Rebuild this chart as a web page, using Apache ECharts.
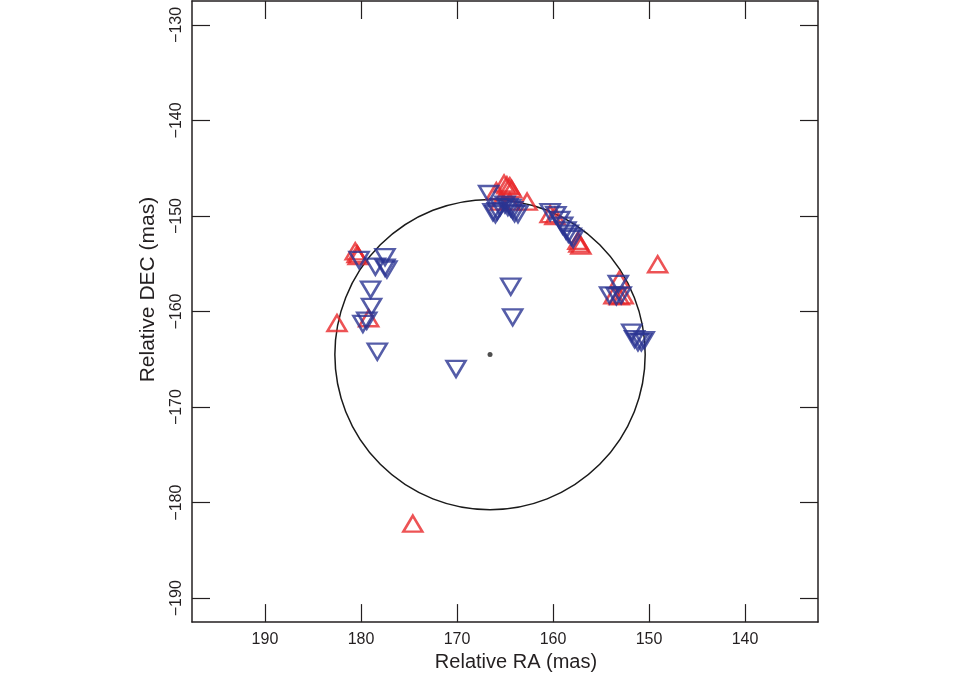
<!DOCTYPE html>
<html>
<head>
<meta charset="utf-8">
<script src="https://cdn.jsdelivr.net/npm/echarts@6/dist/echarts.min.js"></script>
<style>
html,body{margin:0;padding:0;background:#ffffff;overflow:hidden;}
#chart{width:960px;height:677px;}
</style>
</head>
<body>
<div id="chart"></div>
<script>
// Red up-triangles [RA, DEC]
const redPoints = [
  [174.6,-182.2],[149.1,-155.05],[182.5,-161.2],[179.2,-160.7],
  [180.6,-153.7],[180.4,-154.0],[180.3,-154.2],
  [165.1,-146.6],[164.8,-146.8],[164.5,-146.9],[164.3,-147.2],[165.9,-147.4],
  [162.7,-148.5],[165.5,-148.5],[164.5,-148.5],
  [160.3,-149.8],[159.8,-150.0],
  [157.4,-152.6],[157.3,-152.9],[157.1,-153.1],
  [153.1,-156.7],[153.65,-158.3],[153.1,-158.4],[152.7,-158.3]
];
// Blue down-triangles [RA, DEC]
const bluePoints = [
  [166.7,-147.7],
  [166.25,-149.6],[166.0,-149.8],[165.8,-149.5],[164.7,-149.05],[164.4,-149.15],
  [164.2,-149.4],[164.0,-149.7],[163.65,-149.8],[165.5,-149.05],[165.0,-148.8],
  [164.4,-157.4],[164.2,-160.6],[170.1,-166.0],
  [160.3,-149.6],[159.7,-149.9],[159.3,-150.4],[159.0,-151.0],[158.65,-151.5],
  [158.4,-151.85],[158.1,-152.15],[157.9,-152.4],
  [153.2,-157.1],[154.1,-158.3],[153.4,-158.4],[152.9,-158.3],
  [151.8,-162.2],[151.5,-162.9],[151.15,-163.2],[150.8,-163.2],[150.5,-163.0],
  [180.2,-154.6],[177.5,-154.3],[178.5,-155.3],[177.5,-155.4],[177.3,-155.6],
  [179.0,-157.7],[178.9,-159.5],[179.8,-161.3],[179.4,-160.95],[178.3,-164.2]
];
// Fitted circle: [centerRA, centerDEC, radius]
const circleFit = [[166.56,-164.5,16.2]];
const centerPoint = [[166.56,-164.5]];

const xTicks = [190,180,170,160,150,140];
const yTicks = [-190,-180,-170,-160,-150,-140,-130];

const FONT = 'Liberation Sans, Arial, Helvetica, sans-serif';
const AX = '#231f20';
const RED = '#e8282a';
const BLUE = '#2b3592';

const fmt = v => String(v).replace('-', '\u2212');

function xAxisDef(pos, labels) {
  return {
    type:'value', position:pos, inverse:true, min:132.4, max:197.6,
    axisLine:{show:true, onZero:false, lineStyle:{color:AX, width:1.5}},
    axisTick:{show:true, inside:true, length:18, customValues:xTicks, lineStyle:{color:AX, width:1.2}},
    axisLabel:{show:labels, customValues:xTicks, fontSize:16, color:AX, fontFamily:FONT, margin:9, formatter:fmt},
    splitLine:{show:false},
    name: labels ? 'Relative RA (mas)' : '',
    nameLocation:'middle', nameGap:27,
    nameTextStyle:{fontSize:20, color:AX, fontFamily:FONT, padding:[0,0,0,22]}
  };
}
function yAxisDef(pos, labels) {
  return {
    type:'value', position:pos, min:-192.5, max:-127.5,
    axisLine:{show:true, onZero:false, lineStyle:{color:AX, width:1.5}},
    axisTick:{show:true, inside:true, length:18, customValues:yTicks, lineStyle:{color:AX, width:1.2}},
    axisLabel:{show:labels, customValues:yTicks, rotate:90, fontSize:16, color:AX, fontFamily:FONT, margin:7, formatter:fmt},
    splitLine:{show:false},
    name: labels ? 'Relative DEC (mas)' : '',
    nameLocation:'middle', nameGap:33,
    nameTextStyle:{fontSize:21, color:AX, fontFamily:FONT, padding:[0,0,0,44]}
  };
}

const chart = echarts.init(document.getElementById('chart'), null, {renderer:'canvas', width:960, height:677});
chart.setOption({
  animation:false,
  backgroundColor:'#ffffff',
  grid:{left:192, width:626, top:1, height:626, containLabel:false},
  xAxis:[xAxisDef('bottom', true), xAxisDef('top', false)],
  yAxis:[yAxisDef('left', true), yAxisDef('right', false)],
  series:[
    {
      type:'custom', xAxisIndex:0, yAxisIndex:0, data:circleFit, silent:true, z:1,
      renderItem:function(params, api){
        const c = api.coord([api.value(0), api.value(1)]);
        const rx = api.size([api.value(2), 0])[0];
        const ry = api.size([0, api.value(2)])[1];
        return {type:'circle', shape:{cx:c[0], cy:c[1], r:(rx+ry)/2},
          style:{fill:'none', stroke:'#1a1a1a', lineWidth:1.5}};
      }
    },
    {
      type:'scatter', data:redPoints, symbol:'triangle', symbolSize:[19,16], z:2,
      itemStyle:{color:'rgba(0,0,0,0)', borderColor:RED, borderWidth:2.5}
    },
    {
      type:'scatter', data:bluePoints, symbol:'triangle', symbolRotate:180, symbolSize:[19,16], z:3,
      itemStyle:{color:'rgba(0,0,0,0)', borderColor:BLUE, borderWidth:2.5}
    },
    {
      type:'scatter', data:centerPoint, symbol:'circle', symbolSize:5, z:4,
      itemStyle:{color:'#222'}
    }
  ]
});
</script>
</body>
</html>
